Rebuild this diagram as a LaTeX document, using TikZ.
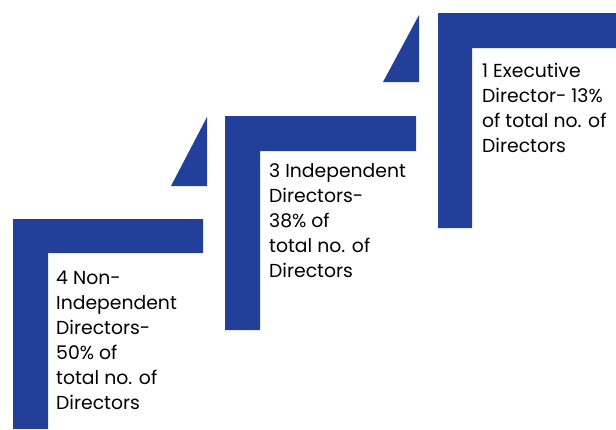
\documentclass[tikz,border=0pt]{standalone}
\usepackage{fontspec}
\setmainfont{Poppins}
\definecolor{stepblue}{HTML}{22409A}
\begin{document}
\begin{tikzpicture}[x=1pt,y=-1pt,
  stepfill/.style={fill=stepblue},
  lbl/.style={anchor=north west, inner sep=0pt, align=left, text=black,
    font=\fontsize{18.8}{25}\selectfont}]
\useasboundingbox (0,0) rectangle (616,429);
% step 1
\fill[stepfill] (13,219) -- (203,219) -- (203,253) -- (48,253) -- (48,429) -- (13,429) -- cycle;
% triangle 2
\fill[stepfill] (171,186) -- (207,117) -- (207,186) -- cycle;
% step 2
\fill[stepfill] (225,116) -- (416,116) -- (416,151) -- (260,151) -- (260,330) -- (225,330) -- cycle;
% triangle 3
\fill[stepfill] (383,82) -- (419,15) -- (419,82) -- cycle;
% step 3
\fill[stepfill] (438,13) -- (616,13) -- (616,48) -- (472,48) -- (472,228) -- (438,228) -- cycle;
% labels
\node[lbl] (t1) at (56,271) {4 Non-\\Independent\\Directors-\\50\% of\\total no. of\\Directors};
\node[lbl] (t2) at (269,163) {3 Independent\\Directors-\\38\% of\\total no. of\\Directors};
\node[lbl] (t3) at (482,63) {1 Executive\\Director- 13\%\\of total no. of\\Directors};
\end{tikzpicture}
\end{document}
